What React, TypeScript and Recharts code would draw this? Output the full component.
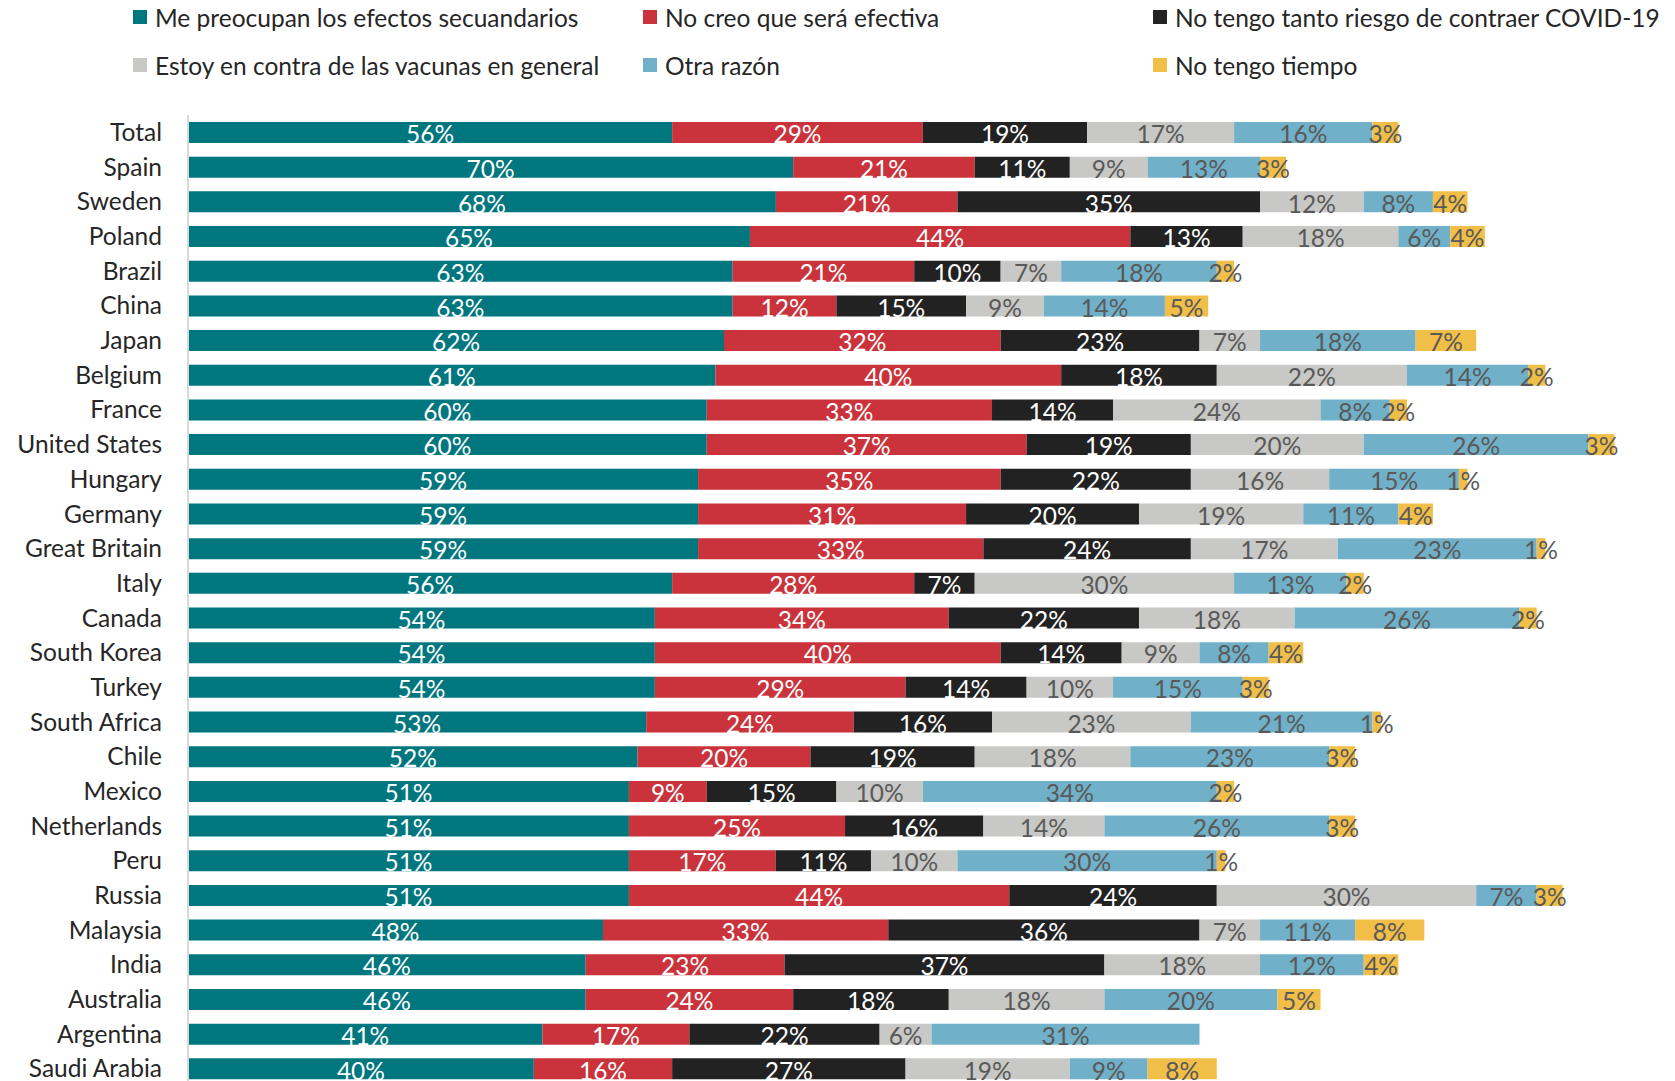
import { BarChart, Bar, XAxis, YAxis, LabelList } from "recharts";

const countries = [
  "Total", "Spain", "Sweden", "Poland", "Brazil", "China", "Japan", "Belgium",
  "France", "United States", "Hungary", "Germany", "Great Britain", "Italy",
  "Canada", "South Korea", "Turkey", "South Africa", "Chile", "Mexico",
  "Netherlands", "Peru", "Russia", "Malaysia", "India", "Australia",
  "Argentina", "Saudi Arabia",
];

const efectos = [56, 70, 68, 65, 63, 63, 62, 61, 60, 60, 59, 59, 59, 56, 54, 54, 54, 53, 52, 51, 51, 51, 51, 48, 46, 46, 41, 40];
const noEfectiva = [29, 21, 21, 44, 21, 12, 32, 40, 33, 37, 35, 31, 33, 28, 34, 40, 29, 24, 20, 9, 25, 17, 44, 33, 23, 24, 17, 16];
const pocoRiesgo = [19, 11, 35, 13, 10, 15, 23, 18, 14, 19, 22, 20, 24, 7, 22, 14, 14, 16, 19, 15, 16, 11, 24, 36, 37, 18, 22, 27];
const enContra = [17, 9, 12, 18, 7, 9, 7, 22, 24, 20, 16, 19, 17, 30, 18, 9, 10, 23, 18, 10, 14, 10, 30, 7, 18, 18, 6, 19];
const otraRazon = [16, 13, 8, 6, 18, 14, 18, 14, 8, 26, 15, 11, 23, 13, 26, 8, 15, 21, 23, 34, 26, 30, 7, 11, 12, 20, 31, 9];
const sinTiempo = [3, 3, 4, 4, 2, 5, 7, 2, 2, 3, 1, 4, 1, 2, 2, 4, 3, 1, 3, 2, 3, 1, 3, 8, 4, 5, 0, 8];

const series = [
  { key: "efectos", name: "Me preocupan los efectos secuandarios", color: "#00767E", text: "#ffffff", values: efectos },
  { key: "noEfectiva", name: "No creo que será efectiva", color: "#CA333B", text: "#ffffff", values: noEfectiva },
  { key: "pocoRiesgo", name: "No tengo tanto riesgo de contraer COVID-19", color: "#222222", text: "#ffffff", values: pocoRiesgo },
  { key: "enContra", name: "Estoy en contra de las vacunas en general", color: "#C8C8C6", text: "#595959", values: enContra },
  { key: "otraRazon", name: "Otra razón", color: "#70B1C9", text: "#595959", values: otraRazon },
  { key: "sinTiempo", name: "No tengo tiempo", color: "#F1BE48", text: "#595959", values: sinTiempo },
];

const data = countries.map((country, i) => {
  const row: Record<string, string | number> = { country };
  series.forEach((s) => {
    row[s.key] = s.values[i];
  });
  return row;
});

const FONT = "Lato, 'Liberation Sans', sans-serif";
const FS = 24.5;
const legendCols = [133, 643, 1153];
const legendRows = [17, 65];

const App = () => {
  return (
    <div
      style={{
        position: "absolute",
        left: 0,
        top: 0,
        width: 1675,
        height: 1081,
        overflow: "hidden",
        background: "#ffffff",
        fontFamily: FONT,
      }}
    >
      {/* legend, 3 columns x 2 rows */}
      {series.map((s, i) => (
        <div
          key={s.key}
          style={{
            position: "absolute",
            left: legendCols[i % 3],
            top: legendRows[Math.floor(i / 3)] - 16,
            height: 32,
            display: "flex",
            alignItems: "center",
            fontSize: FS,
            color: "#262626",
            whiteSpace: "nowrap",
          }}
        >
          <span style={{ display: "inline-block", width: 14, height: 14, background: s.color, marginRight: 8 }} />
          {s.name}
        </div>
      ))}

      <BarChart
        width={1675}
        height={1086}
        data={data}
        layout="vertical"
        margin={{ top: 115, right: 0, left: 0, bottom: 0 }}
      >
        <XAxis type="number" domain={[0, 172]} hide />
        <YAxis
          type="category"
          dataKey="country"
          width={188}
          tickLine={false}
          tickMargin={20}
          axisLine={{ stroke: "#d9d9d9", strokeWidth: 2 }}
          tick={{ fill: "#262626", fontSize: FS, fontFamily: FONT }}
          interval={0}
        />
        {series.map((s) => (
          <Bar
            key={s.key}
            dataKey={s.key}
            name={s.name}
            stackId="a"
            fill={s.color}
            barSize={21}
            isAnimationActive={false}
          >
            <LabelList
              dataKey={s.key}
              position="center"
              fill={s.text}
              fontSize={FS}
              fontFamily={FONT}
              dy={2}
              formatter={(v: number) => (v ? `${v}%` : "")}
            />
          </Bar>
        ))}
      </BarChart>
    </div>
  );
};

export default App;
